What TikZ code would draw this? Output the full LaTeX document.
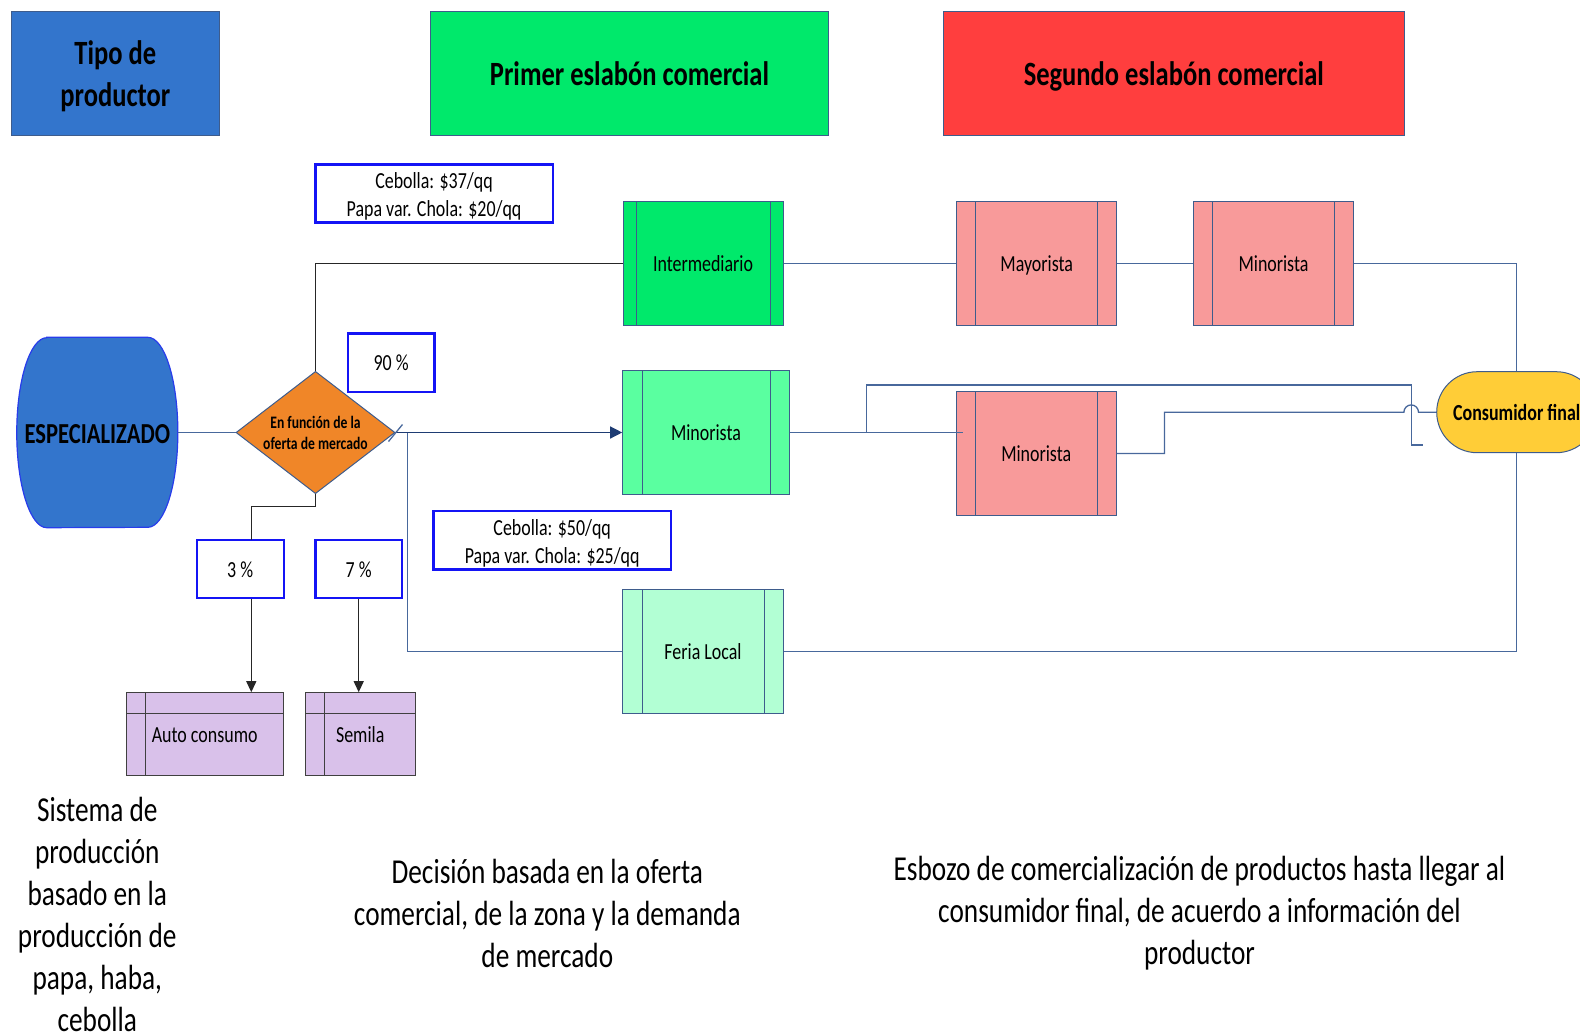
\documentclass[tikz,border=0pt]{standalone}
\usepackage{fontspec}
\setmainfont{Carlito}[FakeStretch=0.78]
\usetikzlibrary{arrows.meta,calc,backgrounds,shapes.geometric}
\definecolor{hblue}{RGB}{51,117,204}
\definecolor{hgreen}{RGB}{0,233,107}
\definecolor{hred}{RGB}{255,62,62}
\definecolor{mgreen}{RGB}{90,255,160}
\definecolor{lgreen}{RGB}{178,255,212}
\definecolor{pinkc}{RGB}{248,154,154}
\definecolor{lilac}{RGB}{217,193,234}
\definecolor{orng}{RGB}{240,134,40}
\definecolor{yell}{RGB}{255,205,55}
\definecolor{bordc}{RGB}{62,92,140}
\definecolor{linec}{RGB}{72,104,156}
\definecolor{pblue}{RGB}{20,20,245}
\definecolor{arrc}{RGB}{30,60,115}
\definecolor{espb}{RGB}{40,60,235}
\begin{document}
\begin{tikzpicture}[x=1pt,y=-1pt,
  onel/.style={text height=17pt, text depth=1pt},
  hdr/.style={rectangle, draw=bordc, line width=0.8pt, inner sep=0pt,
    minimum height=124pt, align=center, font=\fontsize{34}{42}\selectfont\bfseries},
  hdrone/.style={text height=25.5pt, text depth=2.5pt},
  pbox/.style={rectangle, draw=pblue, line width=2.4pt, inner sep=0pt, align=center,
    font=\fontsize{23}{28}\selectfont},
  proc/.style n args={2}{rectangle, draw=bordc, line width=1pt, inner sep=0pt, onel,
    minimum height=123.5pt, font=\fontsize{23}{28}\selectfont,
    path picture={
      \draw[bordc,line width=1pt] ([xshift=#1]path picture bounding box.north west) -- ([xshift=#1]path picture bounding box.south west);
      \draw[bordc,line width=1pt] ([xshift=-#2]path picture bounding box.north east) -- ([xshift=-#2]path picture bounding box.south east);}},
  tbl/.style={rectangle, draw=black!75, line width=1pt, fill=lilac, inner sep=0pt, onel,
    minimum height=82.6pt, font=\fontsize{23}{28}\selectfont,
    path picture={
      \draw[black!75,line width=1pt] ([yshift=-20.6pt]path picture bounding box.north west) -- ([yshift=-20.6pt]path picture bounding box.north east);
      \draw[black!75,line width=1pt] ([xshift=19.3pt]path picture bounding box.north west) -- ([xshift=19.3pt]path picture bounding box.south west);}},
  conn/.style={draw=linec, line width=1.3pt},
  connk/.style={draw=black!85, line width=1.2pt},
  arrb/.style={-{Triangle[length=12pt,width=12pt]}, arrc},
  arrk/.style={-{Triangle[length=11pt,width=10pt]}},
  bigtext/.style={align=center, inner sep=0pt, font=\fontsize{35}{41.9}\selectfont}
]
\useasboundingbox (0,0) rectangle (1580,1034);

% headers
\node[hdr, fill=hblue, minimum width=208.7pt] (h1) at (115.35,73.7) {\rule{0pt}{29pt}Tipo de\\productor};
\node[hdr, hdrone, fill=hgreen, minimum width=398.2pt] (h2) at (629.5,73.7) {Primer eslabón comercial};
\node[hdr, hdrone, fill=hred, minimum width=461pt] (h3) at (1173.8,73.7) {Segundo eslabón comercial};

% price boxes and percentages
\node[pbox, minimum width=237.4pt, minimum height=58pt] (p1) at (434,193.3) {\rule{0pt}{23pt}Cebolla: \$37/qq\\Papa var. Chola: \$20/qq};
\node[pbox, minimum width=237.7pt, minimum height=58.3pt] (p2) at (552.2,540.2) {\rule{0pt}{23pt}Cebolla: \$50/qq\\Papa var. Chola: \$25/qq};
\node[pbox, onel, minimum width=86.6pt, minimum height=58.5pt] (pct90) at (391.1,362.9) {90 \%};
\node[pbox, onel, minimum width=87pt, minimum height=58pt] (pct3) at (240.2,569) {3 \%};
\node[pbox, onel, minimum width=86.7pt, minimum height=58pt] (pct7) at (358.7,569) {7 \%};

% process boxes
\node[proc={13pt}{13pt}, fill=hgreen, minimum width=160pt] (inter) at (703,263.5) {Intermediario};
\node[proc={19pt}{19pt}, fill=pinkc, minimum width=160.3pt] (mayo) at (1036.7,263.5) {Mayorista};
\node[proc={19pt}{19pt}, fill=pinkc, minimum width=160pt] (mino1) at (1273.5,263.5) {Minorista};
\node[proc={19.6pt}{19pt}, fill=mgreen, minimum width=166.6pt] (mino2) at (706,432.5) {Minorista};
\node[proc={19.3pt}{19pt}, fill=pinkc, minimum width=160.3pt] (mino3) at (1036.2,453.4) {Minorista};
\node[proc={19.6pt}{19.3pt}, fill=lgreen, minimum width=160.6pt] (feria) at (703,651.3) {Feria Local};

% table boxes
\node[tbl, minimum width=157.3pt] (auto) at (204.7,734) {Auto consumo};
\node[tbl, minimum width=110.3pt] (semila) at (360.2,734) {Semila};

% producer
\node[rectangle, inner sep=0pt, minimum width=160.7pt, minimum height=190pt,
  text height=21.5pt, text depth=0pt,
  font=\fontsize{29}{34}\selectfont\bfseries] (esp) at (97.3,432.5) {ESPECIALIZADO};
\begin{pgfonlayer}{background}
\draw[fill=hblue, draw=espb, line width=1.2pt]
  ($(esp.north west)+(30,0)$) -- ($(esp.north east)+(-30,0)$)
  arc[start angle=90, end angle=-90, x radius=30pt, y radius=95pt]
  -- ($(esp.south west)+(30,0)$)
  arc[start angle=270, end angle=90, x radius=30pt, y radius=95pt] -- cycle;
\end{pgfonlayer}

% decision
\node[diamond, aspect=1.3, draw=bordc, line width=1pt, fill=orng, inner sep=0pt,
  minimum width=159pt, minimum height=122.3pt, align=center,
  font=\fontsize{17.5}{21}\selectfont\bfseries] (dia) at (315.5,432.5) {En función de la\\oferta de mercado};

% final consumer
\node[rectangle, rounded corners=40.5pt, draw=bordc, line width=1pt, fill=yell,
  minimum width=160pt, minimum height=81pt, inner sep=0pt, onel,
  font=\fontsize{23}{28}\selectfont\bfseries] (cons) at (1516.7,412.2) {Consumidor final};

% bottom texts
\node[bigtext] (t1) at (97.3,914.5) {Sistema de\\producción\\basado en la\\producción de\\papa, haba,\\cebolla};
\node[bigtext] (t2) at (547.3,913.5) {Decisión basada en la oferta\\comercial, de la zona y la demanda\\de mercado};
\node[bigtext] (t3) at (1199.5,913.5) {Esbozo de comercialización de productos hasta llegar al\\consumidor final, de acuerdo a información del\\productor};

% helper coordinates
\coordinate (fsplit) at (407.3,432.5);
\coordinate (b3top) at (251.3,540);
\coordinate (j1) at (866.3,432.5);
\coordinate (m3in) at (963,432.5);
\coordinate (v1) at (1411.7,385);
\coordinate (e1) at (1423,445);

% connectors
\draw[conn] (esp.east) -- (dia.west);
\draw[connk] (dia.north) |- (inter.west);
\draw[conn, arrb] (dia.east) -- (mino2.west);
\draw[conn] ($(dia.east)+(-7,9)$) -- ($(dia.east)+(7,-8)$);
\draw[conn] (fsplit) |- (feria.west);
\draw[connk] (dia.south) -- ++(0,12) -| (b3top);
\draw[connk, arrk] (pct3.south -| b3top) -- (auto.north -| b3top);
\draw[connk, arrk] (pct7.south) -- (pct7.south |- semila.north);
\draw[conn] (inter.east) -- (mayo.west);
\draw[conn] (mayo.east) -- (mino1.west);
\draw[conn] (mino1.east) -| (cons.north);
\draw[conn] (feria.east) -| (cons.south);
\draw[conn] (mino2.east) -- (m3in);
\draw[conn] (j1) |- (v1) |- (e1);
\draw[conn] (mino3.east) -- ++(47.7,0) |- ($(cons.west)+(-32.3,0)$)
  arc[start angle=180, end angle=0, radius=7.3pt] -- (cons.west);
\end{tikzpicture}
\end{document}
